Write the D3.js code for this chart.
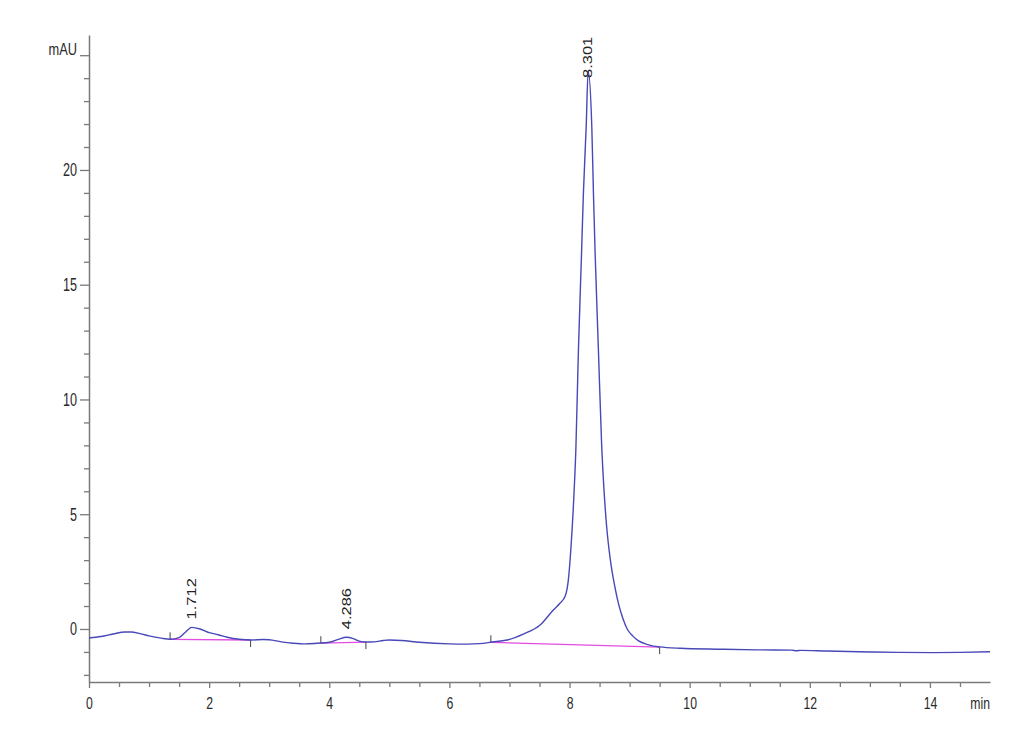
<!DOCTYPE html>
<html>
<head>
<meta charset="utf-8">
<script src="https://cdn.jsdelivr.net/npm/d3@7"></script>
<style>
  html, body { margin: 0; padding: 0; background: #fff; }
  svg { display: block; }
</style>
</head>
<body>
<svg id="chart" width="1030" height="755"></svg>
<script>
// ---- data ----
const times = [0, 0.2, 0.4, 0.6, 0.7, 0.85, 1.0, 1.2, 1.35, 1.5, 1.6, 1.712, 1.85, 2.0, 2.15, 2.3, 2.5, 2.7, 2.9, 3.0, 3.2, 3.4, 3.6, 3.8, 4.0, 4.15, 4.286, 4.4, 4.5, 4.6, 4.75, 4.9, 5.0, 5.2, 5.5, 6.0, 6.3, 6.5, 6.71, 6.96, 7.23, 7.51, 7.73, 7.84, 7.93, 7.98, 8.02, 8.077, 8.105, 8.148, 8.20, 8.231, 8.277, 8.31, 8.371, 8.398, 8.426, 8.481, 8.535, 8.575, 8.62, 8.68, 8.75, 8.82, 8.89, 8.96, 9.05, 9.15, 9.3, 9.5, 9.84, 10.5, 11.12, 11.7, 11.78, 11.85, 12.28, 13.0, 13.45, 14.06, 14.5, 15.0];
const signal = [-0.39, -0.33, -0.22, -0.13, -0.13, -0.2, -0.3, -0.4, -0.45, -0.38, -0.15, 0.07, 0.0, -0.16, -0.25, -0.36, -0.45, -0.48, -0.46, -0.47, -0.56, -0.62, -0.65, -0.62, -0.58, -0.45, -0.36, -0.42, -0.53, -0.57, -0.56, -0.5, -0.48, -0.5, -0.58, -0.65, -0.66, -0.64, -0.57, -0.48, -0.22, 0.17, 0.83, 1.12, 1.45, 2.13, 3.4, 6.05, 7.8, 12.15, 16.38, 18.99, 21.86, 24.3, 21.86, 18.99, 16.38, 12.15, 8.0, 6.0, 4.4, 3.0, 1.9, 1.05, 0.45, 0.0, -0.3, -0.52, -0.68, -0.78, -0.84, -0.88, -0.91, -0.92, -0.95, -0.93, -0.96, -1.0, -1.02, -1.03, -1.02, -0.99];

const peakTimes  = [1.712, 4.286, 8.301];
const peakValues = [0.07, -0.36, 24.3];
const peakLabels = ["1.712", "4.286", "8.301"];

const baseStartT = [1.35, 3.86, 6.69];
const baseStartV = [-0.45, -0.62, -0.58];
const baseEndT   = [2.69, 4.61, 9.5];
const baseEndV   = [-0.48, -0.57, -0.79];

const xMajorTicks = [0, 2, 4, 6, 8, 10, 12, 14];
const yMajorTicks = [0, 5, 10, 15, 20, 25];
const xUnit = "min";
const yUnit = "mAU";

// ---- layout ----
const svg = d3.select("#chart");
const x = d3.scaleLinear().domain([0, 15]).range([89, 990]);
const y = d3.scaleLinear().domain([-2.31, 25.88]).range([682, 35]);

const axisColor = "#7a7a7a";
const textColor = "#2a2a2a";
const fontFam = "'Liberation Sans', Arial, sans-serif";

// minor y ticks
const yMinor = d3.range(-2, 26, 1).filter(v => yMajorTicks.indexOf(v) < 0);
svg.append("g").attr("transform", "translate(89,0)")
  .call(d3.axisLeft(y).tickValues(yMinor).tickSize(5).tickSizeOuter(0).tickFormat(""))
  .call(g => g.select(".domain").remove())
  .call(g => g.selectAll("line").attr("stroke", axisColor).attr("stroke-width", 1.3));

// major y ticks + domain
const gy = svg.append("g").attr("transform", "translate(89,0)")
  .call(d3.axisLeft(y).tickValues(yMajorTicks).tickSize(9).tickSizeOuter(0).tickPadding(3)
    .tickFormat(d => d === 25 ? yUnit : d));
gy.select(".domain").attr("stroke", axisColor).attr("stroke-width", 1.5);
gy.selectAll("line").attr("stroke", axisColor).attr("stroke-width", 1.3);
gy.selectAll("text").each(function(d) {
  const t = d3.select(this);
  const xx = +t.attr("x");
  t.attr("x", 0)
   .attr("transform", `translate(${xx},${d === 25 ? -6 : 0}) scale(${d === 25 ? 0.8 : 0.7},1)`)
   .attr("font-family", fontFam).attr("font-size", d === 25 ? 16 : 18)
   .attr("fill", textColor);
});

// x ticks
const xMinor = d3.range(0.5, 15, 0.5).filter(v => xMajorTicks.indexOf(v) < 0);
svg.append("g").attr("transform", "translate(0,682)")
  .call(d3.axisBottom(x).tickValues(xMinor).tickSize(5).tickSizeOuter(0).tickFormat(""))
  .call(g => g.select(".domain").remove())
  .call(g => g.selectAll("line").attr("stroke", axisColor).attr("stroke-width", 1.3));
const gx = svg.append("g").attr("transform", "translate(0,682)")
  .call(d3.axisBottom(x).tickValues(xMajorTicks).tickSize(6).tickSizeOuter(0).tickPadding(9));
gx.select(".domain").attr("stroke", axisColor).attr("stroke-width", 1.5);
gx.selectAll("line").attr("stroke", axisColor).attr("stroke-width", 1.3);
gx.selectAll("text")
  .attr("x", 0)
  .attr("transform", "scale(0.72,1)")
  .attr("font-family", fontFam).attr("font-size", 17).attr("fill", textColor);
svg.append("text")
  .attr("transform", `translate(990,709) scale(0.72,1)`)
  .attr("text-anchor", "end")
  .attr("font-family", fontFam).attr("font-size", 17).attr("fill", textColor)
  .text(xUnit);

// ---- integration baselines ----
const baseG = svg.append("g");
baseStartT.forEach((t0, i) => {
  baseG.append("line")
    .attr("x1", x(t0)).attr("y1", y(baseStartV[i]))
    .attr("x2", x(baseEndT[i])).attr("y2", y(baseEndV[i]))
    .attr("stroke", "#e24ce2").attr("stroke-width", 1.3);
  baseG.append("line")
    .attr("x1", x(t0)).attr("x2", x(t0))
    .attr("y1", y(baseStartV[i])).attr("y2", y(baseStartV[i]) - 7)
    .attr("stroke", "#444").attr("stroke-width", 1);
  baseG.append("line")
    .attr("x1", x(baseEndT[i])).attr("x2", x(baseEndT[i]))
    .attr("y1", y(baseEndV[i])).attr("y2", y(baseEndV[i]) + 7)
    .attr("stroke", "#444").attr("stroke-width", 1);
});

// ---- signal trace ----
const pts = times.map((t, i) => [t, signal[i]]);
const line = d3.line().x(d => x(d[0])).y(d => y(d[1])).curve(d3.curveMonotoneX);
svg.append("path").datum(pts)
  .attr("d", line)
  .attr("fill", "none")
  .attr("stroke", "#4848b8")
  .attr("stroke-width", 1.4)
  .attr("stroke-linejoin", "round");

// ---- peak labels ----
const labelLen = 40;
peakTimes.forEach((t, i) => {
  let py = y(peakValues[i]) - 8;
  py = Math.max(py, 38 + labelLen);
  svg.append("text")
    .attr("transform", `translate(${x(t)},${py}) scale(0.72,1) rotate(-90)`)
    .attr("dy", "0.36em")
    .attr("text-anchor", "start")
    .attr("font-family", fontFam).attr("font-size", 16.5).attr("fill", "#222")
    .text(peakLabels[i]);
});
</script>
</body>
</html>
